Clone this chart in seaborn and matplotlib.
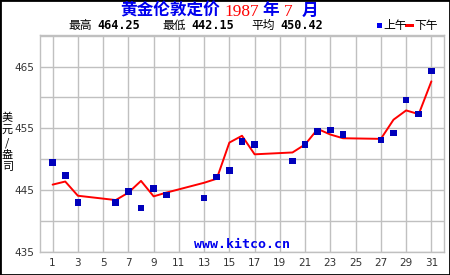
import matplotlib
matplotlib.use("Agg")
import matplotlib.pyplot as plt
import seaborn as sns
import pandas as pd
from matplotlib.patches import Rectangle

days = [1, 2, 3, 6, 7, 8, 9, 10, 13, 14, 15, 16, 17, 20, 21, 22, 23, 24, 27, 28, 29, 30, 31]
am = [449.5, 447.4, 443.0, 443.0, 444.8, 442.15, 445.3, 444.2, 443.7, 447.1, 448.2, 452.9,
      452.4, 449.7, 452.4, 454.5, 454.7, 454.0, 453.1, 454.25, 459.55, 457.3, 464.25]
pm = [445.9, 446.4, 444.1, 443.4, 444.6, 446.5, 444.0, 444.6, 446.2, 446.85, 452.7, 453.8,
      450.8, 451.1, 452.4, 454.9, 454.0, 453.4, 453.3, 456.4, 457.9, 457.3, 462.6]
x_ticks = list(range(1, 32, 2))
y_ticks = [435, 445, 455, 465]
y_grid = [435, 440, 445, 450, 455, 460, 465, 470]
stats_labels = ["最高", "最低", "平均"]
stats_values = ["464.25", "442.15", "450.42"]
title_parts = ["黄金伦敦定价", "1987", "年", "7", "月"]
ylabel_chars = ["美", "元", "/", "盎", "司"]

df = pd.DataFrame({"day": days, "am": am, "pm": pm})

sns.set_theme(style="white")
plt.rcParams['font.family'] = ['Noto Sans CJK SC', 'DejaVu Sans']

fig = plt.figure(figsize=(4.5, 2.75), dpi=100)
ax = fig.add_axes([40/450, 1-252/275, 404/450, 217/275])

grid_c = "#c0c0c0"
for v in y_grid:
    ax.axhline(v, color=grid_c, lw=1.0, zorder=0)
for d in x_ticks:
    ax.axvline(d, color=grid_c, lw=1.0, zorder=0)

sns.lineplot(data=df, x="day", y="pm", ax=ax, color="#ff0000", lw=1.4, zorder=2)
sns.scatterplot(data=df, x="day", y="am", ax=ax, color="#0000bb", marker="s", s=22,
                edgecolor="none", linewidth=0, zorder=3)

ax.set_xlim(0, 32)
ax.set_ylim(435, 470.1)
ax.set_xticks(x_ticks)
ax.set_xticklabels([str(t) for t in x_ticks])
ax.set_yticks(y_ticks)
ax.set_yticklabels([str(t) for t in y_ticks])
ax.tick_params(axis="both", length=0, pad=4, labelsize=7.5, labelcolor="#333333")
for lab in ax.get_xticklabels() + ax.get_yticklabels():
    lab.set_family("DejaVu Sans")
for sp in ax.spines.values():
    sp.set_color(grid_c)
    sp.set_linewidth(1.0)
ax.set_xlabel("")
ax.set_ylabel("")

# y label stacked, one char per line
for ch, yc in zip(ylabel_chars, [118, 130, 143, 155, 167]):
    fig.text(7.5/450, 1-yc/275, ch, ha="center", va="center", fontsize=8, color="#000000")

# watermark
ax.text(0.5, 0.035, "www.kitco.cn", transform=ax.transAxes, ha="center", va="center",
        fontsize=9.5, color="#0000ee", family="DejaVu Sans Mono", fontweight="bold")

# title pieces
blue = "#0000ee"
red = "#ff0000"
serif = ["Liberation Serif", "DejaVu Serif"]
title_x = [120, 224, 262, 284, 302]
title_style = [
    dict(color=blue, fontsize=12, fontweight="bold"),
    dict(color=red, fontsize=12.5, family=serif),
    dict(color=blue, fontsize=12, fontweight="bold"),
    dict(color=red, fontsize=12.5, family=serif),
    dict(color=blue, fontsize=12, fontweight="bold"),
]
for txt, xp, st in zip(title_parts, title_x, title_style):
    fig.text(xp/450, 1-15.5/275, txt, ha="left", va="baseline", **st)

# stats line
xs = [68, 162, 251]
for xl, lab, val in zip(xs, stats_labels, stats_values):
    fig.text(xl/450, 1-25.5/275, lab, ha="left", va="center", fontsize=8.5, color="#000000")
    fig.text((xl + 29)/450, 1-25.5/275, val, ha="left", va="center", fontsize=8.5,
             family="DejaVu Sans Mono", fontweight="bold", color="#000000")

# legend
fig.patches.append(Rectangle((377/450, 1-28/275), 5/450, 5/275, transform=fig.transFigure,
                             facecolor="#0000ee", edgecolor="none"))
fig.text(383/450, 1-25/275, "上午", ha="left", va="center", fontsize=8.5, color="#000000")
fig.patches.append(Rectangle((405/450, 1-26.5/275), 9/450, 2.5/275, transform=fig.transFigure,
                             facecolor="#ff0000", edgecolor="none"))
fig.text(414/450, 1-25/275, "下午", ha="left", va="center", fontsize=8.5, color="#000000")

# outer border
fig.patches.append(Rectangle((0, 0), 1, 1, transform=fig.transFigure, fill=False,
                             edgecolor="#000000", linewidth=2))

fig.savefig("out.png", dpi=100, facecolor="white")
